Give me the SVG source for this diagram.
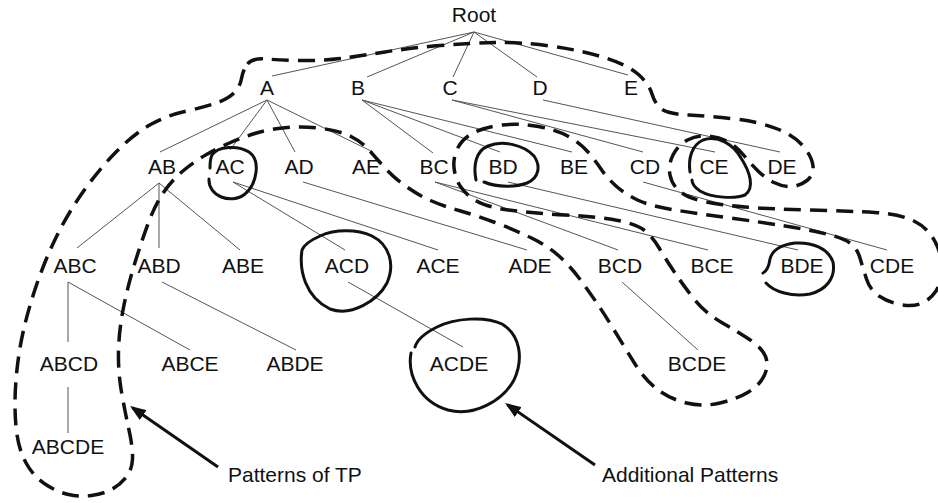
<svg xmlns="http://www.w3.org/2000/svg" width="938" height="503" viewBox="0 0 938 503">
<style>
text{font-family:"Liberation Sans",Arial,Helvetica,sans-serif;font-size:21px;fill:#111;text-anchor:middle}
.lbl{text-anchor:start}
.con{stroke:#555;stroke-width:1;fill:none}
.tp{stroke:#111;stroke-width:3.5;fill:none;stroke-dasharray:17 9;stroke-linecap:butt;stroke-linejoin:round}
.ap{stroke:#111;stroke-width:3;fill:none;stroke-linecap:round}
.arr{stroke:#111;stroke-width:3;fill:none}
</style>
<defs>
<marker id="ah" viewBox="0 0 16 12" refX="13" refY="6" markerWidth="16" markerHeight="12" markerUnits="userSpaceOnUse" orient="auto">
<path d="M0,0 L16,6 L0,12 z" fill="#111"/>
</marker>
</defs>
<rect width="938" height="503" fill="#fff"/>
<g id="connectors">
<path class="con" d="M474,32 L272,76 M474,32 L367,77 M474,32 L453,77 M474,32 L537,77 M474,32 L628,75"/>
<path class="con" d="M267,100 L160,152 M267,100 L230,150 M267,100 L295,152 M267,100 L373,152"/>
<path class="con" d="M362,100 L433,153 M362,100 L500,152 M362,100 L572,152"/>
<path class="con" d="M452,100 L643,152 M452,100 L715,152 M543,100 L780,152"/>
<path class="con" d="M159,183 L77,248 M159,183 L159,248 M159,183 L240,250"/>
<path class="con" d="M233,182 L345,250 M233,182 L438,250 M303,182 L527,250"/>
<path class="con" d="M435,182 L618,250 M435,182 L708,250 M508,182 L798,250 M643,182 L887,250"/>
<path class="con" d="M68,282 L68,342 M68,282 L190,350 M162,282 L296,350 M348,282 L463,347 M622,282 L698,350 M68,387 L68,433"/>
</g>
<g id="root"><text x="474" y="22">Root</text></g>
<g id="A"><text x="267" y="95">A</text></g>
<g id="B"><text x="358" y="95">B</text></g>
<g id="C"><text x="450" y="95">C</text></g>
<g id="D"><text x="540" y="95">D</text></g>
<g id="E"><text x="631" y="95">E</text></g>
<g id="AB"><text x="162" y="174">AB</text></g>
<g id="AC"><text x="230" y="174">AC</text></g>
<g id="AD"><text x="299" y="174">AD</text></g>
<g id="AE"><text x="366" y="174">AE</text></g>
<g id="BC"><text x="434" y="174">BC</text></g>
<g id="BD"><text x="503" y="174">BD</text></g>
<g id="BE"><text x="574" y="174">BE</text></g>
<g id="CD"><text x="645" y="174">CD</text></g>
<g id="CE"><text x="714" y="174">CE</text></g>
<g id="DE"><text x="782" y="174">DE</text></g>
<g id="ABC"><text x="75" y="273">ABC</text></g>
<g id="ABD"><text x="159" y="273">ABD</text></g>
<g id="ABE"><text x="243" y="273">ABE</text></g>
<g id="ACD"><text x="347" y="273">ACD</text></g>
<g id="ACE"><text x="438" y="273">ACE</text></g>
<g id="ADE"><text x="530" y="273">ADE</text></g>
<g id="BCD"><text x="620" y="273">BCD</text></g>
<g id="BCE"><text x="712" y="273">BCE</text></g>
<g id="BDE"><text x="802" y="273">BDE</text></g>
<g id="CDE"><text x="892" y="273">CDE</text></g>
<g id="ABCD"><text x="69" y="371">ABCD</text></g>
<g id="ABCE"><text x="190" y="371">ABCE</text></g>
<g id="ABDE"><text x="295" y="371">ABDE</text></g>
<g id="ACDE"><text x="459" y="371">ACDE</text></g>
<g id="BCDE"><text x="697" y="371">BCDE</text></g>
<g id="ABCDE"><text x="68" y="454">ABCDE</text></g>
<g id="tp-region">
<path class="tp" d="M247.5,64 Q252,58 266,59 Q280,60 300,60.5 Q320,61 340,58.5 Q360,56 385,52 Q410,48 440,45.5 Q470,43 495,42.5 Q520,42 550,46 Q580,50 604,57.5 Q628,65 638.5,74.5 Q649,84 652,94 Q655,104 661.5,109 Q668,114 689,115 Q710,116 735,119 Q760,122 777.5,129 Q795,136 803.5,146.5 Q812,157 813,166 Q814,175 807,180.5 Q800,186 791.5,186.5 Q783,187 774,182.5 Q765,178 757.5,170.5 Q750,163 743.5,155 Q737,147 728.5,142 Q720,137 708.5,136 Q697,135 687.5,140 Q678,145 673,155 Q668,165 670,175 Q672,185 680,191.5 Q688,198 704,201.5 Q720,205 745,207 Q770,209 810,210 Q850,211 875,212.5 Q900,214 914,221 Q928,228 935,241.5 Q942,255 942,268.5 Q942,282 936,291 Q930,300 921,303.5 Q912,307 900,304.5 Q888,302 879,296 Q870,290 866.5,279 Q863,268 860,258 Q857,248 850,243 Q843,238 826.5,234 Q810,230 785,226 Q760,222 730,218 Q700,214 675,210 Q650,206 637.5,200 Q625,194 616,186 Q607,178 601,169 Q595,160 587.5,151.5 Q580,143 568.5,136.5 Q557,130 538.5,126.5 Q520,123 502.5,125 Q485,127 474,132.5 Q463,138 458,147.5 Q453,157 454,167.5 Q455,178 460.5,186.5 Q466,195 476.5,201 Q487,207 508.5,210 Q530,213 565,215 Q600,217 618,220.5 Q636,224 644,230 Q652,236 658.5,247 Q665,258 674,271.5 Q683,285 694,299 Q705,313 722.5,323 Q740,333 751,340.5 Q762,348 765.5,356.5 Q769,365 764.5,375 Q760,385 748.5,392 Q737,399 720,403 Q703,407 686.5,403 Q670,399 657.5,389.5 Q645,380 635,364 Q625,348 615,331.5 Q605,315 596.5,302.5 Q588,290 579,278 Q570,266 559,256 Q548,246 531.5,238 Q515,230 495,222.5 Q475,215 459,210.5 Q443,206 430.5,200.5 Q418,195 405.5,186 Q393,177 384.5,167.5 Q376,158 369,150 Q362,142 351,136.5 Q340,131 322.5,128.5 Q305,126 287.5,127.5 Q270,129 256.5,133 Q243,137 230.5,142.5 Q218,148 206.5,154.5 Q195,161 183.5,170.5 Q172,180 163.5,192.5 Q155,205 148.5,222.5 Q142,240 135,262.5 Q128,285 123.5,307.5 Q119,330 118.5,351 Q118,372 121.5,392 Q125,412 129,430 Q133,448 132.5,459 Q132,470 126,477.5 Q120,485 111.5,489.5 Q103,494 91.5,495.5 Q80,497 68.5,494.5 Q57,492 45,484 Q33,476 25.5,462 Q18,448 16,426.5 Q14,405 16,380 Q18,355 23,332.5 Q28,310 36.5,285 Q45,260 56.5,236.5 Q68,213 84,190.5 Q100,168 117.5,150.5 Q135,133 151.5,124 Q168,115 186.5,111 Q205,107 216.5,103 Q228,99 234,93 Q240,87 241.5,78.5 Q243,70 247.5,64 Z"/>
</g>
<g id="additional-patterns">
<path class="ap" d="M209,179 C208,196 231,205 245,194 C257,184 261,160 249,152 C238,145 218,146 212,155 C210,159 210,164 210,168"/>
<path class="ap" d="M302,250 C299,270 305,297 330,309 C352,317 378,300 387,283 C395,265 390,245 372,236 C357,229 335,229 320,236 C311,240 304,245 302,250 Z"/>
<path class="ap" d="M411,353 C407,375 420,402 448,410 C475,417 503,400 514,380 C524,358 520,335 502,324 C485,316 455,318 437,327 C425,333 417,340 415,347"/>
<path class="ap" d="M476,180 C473,165 476,151 488,146 C503,140 524,145 534,156 C541,166 539,178 527,183 C516,187 498,188 484,182"/>
<path class="ap" d="M690,172 C688,158 692,145 703,140 C718,135 733,144 741,158 C750,172 755,188 745,195 C735,199 712,198 700,191 C694,187 692,183 692,180"/>
<path class="ap" d="M763,273 C767,271 769,266 770,259 C772,251 780,245 795,243 C812,242 828,248 833,262 C836,278 826,290 810,294 C792,297 774,292 766,283"/>
</g>
<g id="label-tp">
<path class="arr" d="M218,467 L132.5,407.7" marker-end="url(#ah)"/>
<text class="lbl" x="228" y="482">Patterns of TP</text>
</g>
<g id="label-additional">
<path class="arr" d="M595,465 L507.5,404.7" marker-end="url(#ah)"/>
<text class="lbl" x="602" y="482">Additional Patterns</text>
</g>
</svg>
